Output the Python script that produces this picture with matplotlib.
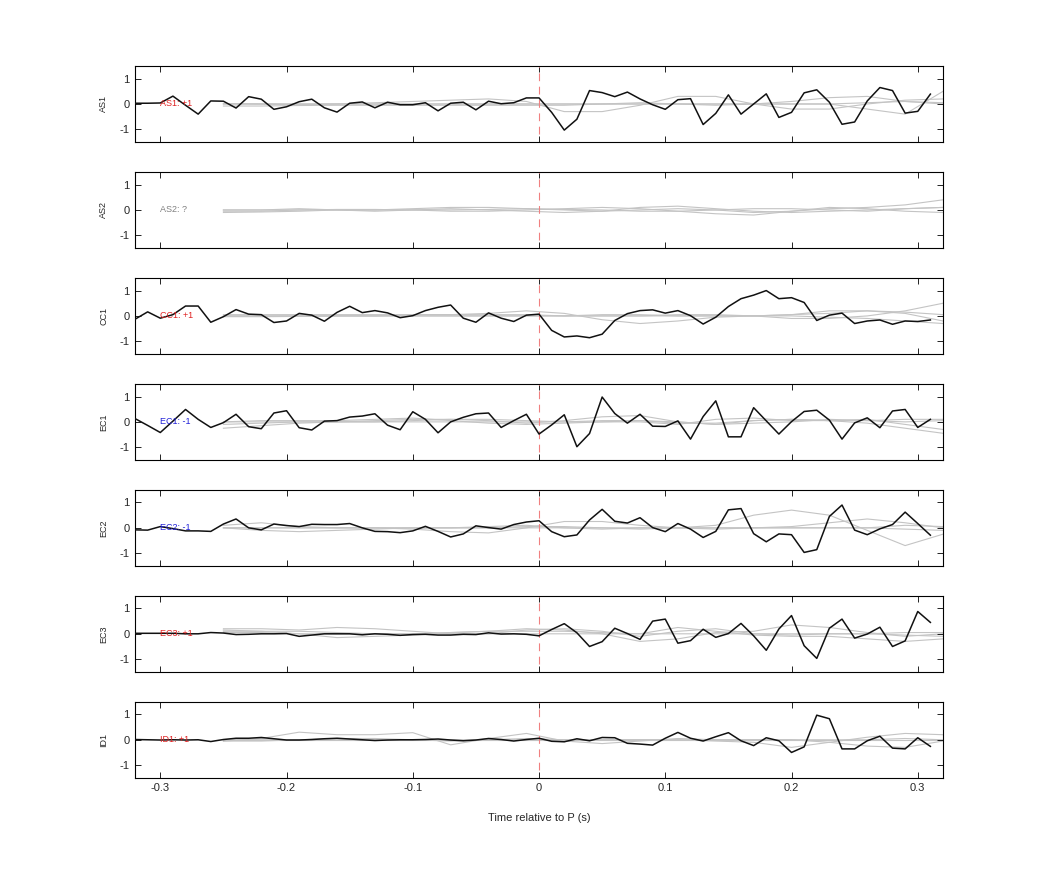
import numpy as np
import matplotlib
matplotlib.use('Agg')
import matplotlib.pyplot as plt

plt.rcParams['font.family'] = ['Liberation Sans', 'DejaVu Sans']
plt.rcParams['axes.unicode_minus'] = False

# time axis of the traces
t_black = np.round(np.arange(-0.32, 0.315, 0.01), 2)
t_grey = np.round(np.arange(-0.25, 0.325, 0.03), 2)

stations = ['AS1', 'AS2', 'CC1', 'EC1', 'EC2', 'EC3', 'ID1']
polarity = ['+1', '?', '+1', '-1', '-1', '+1', '+1']

as1_black = [0.03, 0.03, 0.04, 0.31, -0.05, -0.4, 0.12, 0.11, -0.16, 0.29, 0.19, -0.21, -0.11, 0.09, 0.19, -0.15,
             -0.32, 0.03, 0.08, -0.15, 0.07, -0.03, -0.03, 0.05, -0.27, 0.03, 0.07, -0.23, 0.11, 0.01, 0.05, 0.24, 0.24,
             -0.33, -1.03, -0.6, 0.53, 0.45, 0.29, 0.47, 0.2, -0.03, -0.21, 0.17, 0.21, -0.81, -0.37, 0.36, -0.4,
             0.0, 0.4, -0.53, -0.33, 0.44, 0.56, 0.07, -0.8, -0.71, 0.12, 0.65, 0.53, -0.36, -0.29, 0.39]
cc1_black = [-0.13, 0.16, -0.09, 0.05, 0.39, 0.39, -0.25, -0.03, 0.25, 0.07, 0.05, -0.26, -0.2, 0.1, 0.03, -0.21,
             0.14, 0.38, 0.13, 0.21, 0.12, -0.07, 0.01, 0.21, 0.34, 0.43, -0.09, -0.25, 0.12, -0.09, -0.22, 0.03, 0.07,
             -0.57, -0.83, -0.79, -0.86, -0.72, -0.18, 0.09, 0.21, 0.24, 0.11, 0.21, 0.01, -0.32, -0.05, 0.37, 0.68,
             0.82, 1.0, 0.68, 0.72, 0.53, -0.18, 0.03, 0.11, -0.3, -0.2, -0.16, -0.33, -0.2, -0.22, -0.16]
ec1_black = [0.13, -0.14, -0.42, 0.03, 0.49, 0.1, -0.22, -0.03, 0.3, -0.19, -0.27, 0.35, 0.44, -0.23, -0.32, 0.03,
             0.05, 0.19, 0.23, 0.32, -0.13, -0.31, 0.4, 0.1, -0.43, 0.0, 0.18, 0.32, 0.35, -0.22, 0.05, 0.3, -0.48,
             -0.12, 0.28, -0.98, -0.46, 0.98, 0.33, -0.05, 0.3, -0.17, -0.18, 0.04, -0.68, 0.21, 0.83, -0.59, -0.59,
             0.56, 0.04, -0.48, 0.01, 0.41, 0.46, 0.07, -0.68, -0.04, 0.16, -0.23, 0.43, 0.49, -0.22, 0.1]
ec2_black = [-0.08, -0.09, 0.05, -0.03, -0.12, -0.12, -0.14, 0.15, 0.35, 0.0, -0.08, 0.15, 0.09, 0.05, 0.14, 0.13,
             0.13, 0.17, 0.0, -0.14, -0.15, -0.19, -0.12, 0.06, -0.14, -0.36, -0.24, 0.08, 0.01, -0.05, 0.13, 0.23, 0.28,
             -0.15, -0.35, -0.28, 0.31, 0.73, 0.26, 0.19, 0.4, 0.01, -0.15, 0.17, -0.05, -0.38, -0.14, 0.71, 0.76,
             -0.23, -0.55, -0.24, -0.27, -0.97, -0.86, 0.45, 0.9, -0.09, -0.27, -0.04, 0.13, 0.62, 0.17, -0.29]
ec3_black = [0.02, 0.02, 0.02, 0.02, 0.0, 0.0, 0.05, 0.03, -0.03, -0.02, 0.0, 0.0, 0.01, -0.1, -0.05, 0.0,
             0.0, 0.0, -0.04, 0.0, -0.02, -0.06, -0.03, -0.02, -0.05, -0.05, -0.02, -0.03, 0.04, -0.01, 0.0, -0.02, -0.08,
             0.17, 0.4, 0.04, -0.5, -0.31, 0.22, 0.01, -0.22, 0.5, 0.58, -0.37, -0.27, 0.18, -0.14, 0.01, 0.41,
             -0.08, -0.65, 0.19, 0.72, -0.47, -0.97, 0.22, 0.58, -0.17, -0.01, 0.26, -0.5, -0.28, 0.88, 0.45]
id1_black = [0.01, 0.0, -0.01, 0.0, -0.01, 0.0, -0.07, 0.01, 0.06, 0.06, 0.09, 0.04, -0.01, -0.01, 0.01, 0.04,
             0.06, 0.03, 0.0, -0.03, -0.01, 0.0, 0.0, 0.01, 0.03, -0.01, -0.04, -0.01, 0.05, 0.01, -0.05, 0.01, 0.06,
             -0.06, -0.08, 0.04, -0.04, 0.09, 0.08, -0.14, -0.17, -0.21, 0.06, 0.29, 0.06, -0.05, 0.12, 0.28, -0.04,
             -0.23, 0.08, -0.04, -0.5, -0.28, 0.97, 0.83, -0.36, -0.36, -0.04, 0.14, -0.33, -0.36, 0.08, -0.26]

# grey (synthetic) traces, sampled coarsely
as1_grey = [[0.02, 0.0, -0.03, 0.0, 0.05, 0.1, 0.15, 0.2, 0.1, -0.3, -0.3, -0.05, 0.3, 0.3, 0.0, -0.2, -0.2, 0.0, 0.15, 0.2],
            [-0.08, -0.08, -0.06, -0.05, -0.05, -0.05, -0.05, -0.05, -0.05, -0.05, 0.0, 0.05, 0.0, -0.05, 0.0, 0.1, 0.25, 0.3, 0.1, 0.0],
            [0.0, 0.0, 0.0, 0.0, 0.0, 0.0, 0.0, 0.0, 0.0, 0.0, 0.0, 0.0, 0.0, 0.0, 0.0, 0.0, 0.0, -0.2, -0.4, 0.5],
            [0.0, 0.0, 0.0, 0.0, 0.0, 0.0, 0.0, 0.0, 0.0, 0.0, 0.0, 0.0, 0.0, 0.0, 0.0, 0.0, 0.0, 0.05, 0.1, 0.05]]
as2_grey = [[-0.05, -0.05, 0.0, 0.0, 0.0, 0.05, 0.1, 0.1, 0.05, 0.0, -0.05, 0.0, 0.05, 0.0, -0.1, -0.05, 0.05, 0.1, 0.2, 0.4],
            [0.0, 0.0, 0.05, 0.0, -0.05, 0.0, 0.05, 0.0, -0.05, -0.1, -0.05, 0.1, 0.15, 0.05, -0.05, -0.1, -0.05, 0.0, 0.05, 0.1],
            [-0.1, -0.08, -0.05, 0.0, 0.0, 0.0, -0.05, -0.05, 0.0, 0.05, 0.1, 0.05, -0.05, -0.15, -0.2, -0.05, 0.1, 0.05, -0.05, -0.1],
            [0.0, 0.0, 0.0, 0.02, 0.02, 0.0, 0.0, 0.02, 0.05, 0.02, 0.0, -0.05, -0.05, 0.0, 0.05, 0.05, 0.0, -0.05, 0.05, 0.1]]
cc1_grey = [[0.0, 0.0, 0.0, 0.0, 0.0, 0.05, 0.05, 0.1, 0.2, 0.1, -0.15, -0.3, -0.2, -0.05, 0.0, 0.05, 0.1, 0.2, 0.15, 0.05],
            [0.0, 0.0, 0.0, 0.0, 0.0, 0.0, 0.0, 0.0, 0.0, 0.0, 0.05, 0.05, 0.0, 0.0, 0.0, -0.1, -0.1, 0.0, 0.2, 0.5],
            [0.05, 0.05, 0.05, 0.05, 0.05, 0.05, 0.05, 0.05, 0.05, 0.0, 0.0, 0.0, 0.05, 0.05, 0.0, 0.05, 0.2, 0.2, 0.1, -0.2],
            [-0.03, -0.03, -0.02, 0.0, 0.0, 0.0, 0.0, 0.0, 0.0, 0.0, 0.0, 0.0, 0.0, 0.0, 0.0, 0.0, -0.05, -0.1, -0.2, -0.3]]
ec1_grey = [[-0.25, -0.15, -0.05, 0.0, 0.05, 0.1, 0.1, 0.05, -0.05, 0.05, 0.2, 0.25, 0.0, -0.1, 0.05, 0.1, 0.05, -0.05, -0.25, -0.45],
            [0.0, 0.05, 0.05, 0.05, 0.1, 0.15, 0.05, -0.05, -0.1, -0.05, 0.0, 0.0, -0.1, 0.1, 0.15, 0.05, 0.05, 0.1, -0.1, -0.3],
            [0.0, 0.0, 0.0, 0.0, 0.0, 0.0, 0.0, 0.0, 0.0, 0.0, 0.05, 0.05, 0.0, -0.1, -0.05, 0.0, 0.1, 0.05, 0.0, 0.05],
            [-0.1, -0.05, 0.0, 0.0, 0.0, 0.05, 0.1, 0.1, 0.05, 0.0, 0.0, 0.05, -0.05, -0.05, 0.05, 0.1, 0.05, 0.05, 0.1, 0.1]]
ec2_grey = [[0.0, 0.0, 0.0, 0.0, 0.0, 0.0, 0.0, 0.0, 0.05, 0.05, 0.0, -0.05, 0.0, 0.1, 0.5, 0.7, 0.5, -0.1, -0.7, -0.25],
            [0.1, 0.2, 0.05, 0.0, 0.0, -0.05, -0.15, -0.2, 0.0, 0.25, 0.25, 0.1, 0.0, -0.05, 0.0, 0.05, 0.2, 0.35, 0.2, 0.0],
            [0.0, -0.1, -0.15, -0.1, -0.05, 0.0, 0.0, 0.05, 0.1, 0.0, -0.05, 0.0, 0.0, 0.0, 0.0, 0.0, 0.0, 0.0, 0.1, 0.05],
            [0.0, 0.0, 0.0, 0.0, 0.0, 0.0, 0.0, 0.0, 0.0, 0.0, 0.0, 0.0, 0.0, 0.0, 0.0, 0.0, 0.0, 0.0, -0.05, -0.1]]
ec3_grey = [[0.2, 0.2, 0.15, 0.25, 0.2, 0.1, 0.0, 0.0, 0.15, 0.2, 0.1, -0.1, 0.1, 0.2, 0.0, -0.05, 0.0, 0.0, -0.05, -0.1],
            [0.15, 0.1, 0.0, -0.15, -0.1, -0.05, 0.05, 0.1, 0.2, 0.15, 0.0, -0.3, -0.2, 0.05, 0.1, 0.35, 0.25, 0.05, -0.1, 0.0],
            [0.1, 0.1, 0.1, 0.05, 0.0, 0.0, 0.05, 0.1, 0.1, 0.1, 0.05, 0.0, 0.25, 0.1, -0.05, -0.1, -0.1, -0.2, -0.3, -0.2],
            [0.05, 0.05, 0.0, 0.0, 0.0, 0.0, 0.0, 0.0, 0.0, 0.0, 0.0, 0.0, 0.0, 0.0, 0.0, 0.0, 0.0, 0.0, 0.05, 0.05]]
id1_grey = [[-0.05, 0.05, 0.3, 0.2, 0.2, 0.28, -0.2, 0.05, 0.25, -0.05, -0.15, -0.05, 0.05, 0.0, 0.0, 0.0, 0.0, 0.0, 0.05, 0.0],
            [0.0, 0.0, 0.0, 0.05, 0.05, 0.0, -0.05, 0.0, 0.05, 0.0, 0.0, 0.0, 0.0, -0.05, -0.1, -0.3, -0.1, 0.1, 0.25, 0.2],
            [-0.05, -0.05, 0.0, 0.0, 0.0, 0.0, 0.0, 0.0, 0.0, 0.0, 0.0, 0.0, 0.0, 0.0, 0.0, 0.0, -0.1, -0.25, -0.3, -0.05],
            [0.0, 0.0, 0.0, 0.0, 0.0, 0.0, 0.0, 0.0, 0.0, 0.0, 0.0, 0.0, 0.0, 0.0, 0.0, 0.0, 0.0, 0.0, 0.0, 0.0]]

blacks = [as1_black, None, cc1_black, ec1_black, ec2_black, ec3_black, id1_black]
greys = [as1_grey, as2_grey, cc1_grey, ec1_grey, ec2_grey, ec3_grey, id1_grey]
label_colors = {'+1': '#e02020', '-1': '#2020d8', '?': '#808080'}

fig = plt.figure(figsize=(10.42, 8.75), dpi=100)

left, width = 0.1296, 0.7754
height = 0.0869
step = 0.1211
top0 = 0.9246

for i, name in enumerate(stations):
    ax = fig.add_axes([left, top0 - height - i * step, width, height])
    for g in greys[i]:
        ax.plot(t_grey, g, color='#c4c4c4', lw=0.8, zorder=1)
    ax.axvline(0, ymin=0.1, ymax=1.0, color='#f08080', lw=0.8, ls=(0, (7, 5)), zorder=2)
    if blacks[i] is not None:
        ax.plot(t_black, blacks[i], color='#111111', lw=1.1, zorder=3)
    ax.text(-0.3, 0, f'{name}: {polarity[i]}', color=label_colors[polarity[i]],
            fontsize=6.5, ha='left', va='center', zorder=4)

    ax.set_xlim(-0.32, 0.32)
    ax.set_ylim(-1.5, 1.5)
    ax.set_yticks([-1, 0, 1])
    ax.set_xticks([-0.3, -0.2, -0.1, 0, 0.1, 0.2, 0.3])
    ax.tick_params(direction='in', top=True, right=True, length=4, width=0.6,
                   labelsize=8, labelcolor='#262626', pad=4)
    ax.set_ylabel(name, fontsize=6.5, color='#262626', labelpad=8)
    for s in ax.spines.values():
        s.set_linewidth(0.8)
    if i < len(stations) - 1:
        ax.set_xticklabels([])
    else:
        ax.set_xticklabels(['-0.3', '-0.2', '-0.1', '0', '0.1', '0.2', '0.3'])
        ax.set_xlabel('Time relative to P (s)', fontsize=8, color='#262626', labelpad=14)

plt.savefig('out.png', dpi=100)
